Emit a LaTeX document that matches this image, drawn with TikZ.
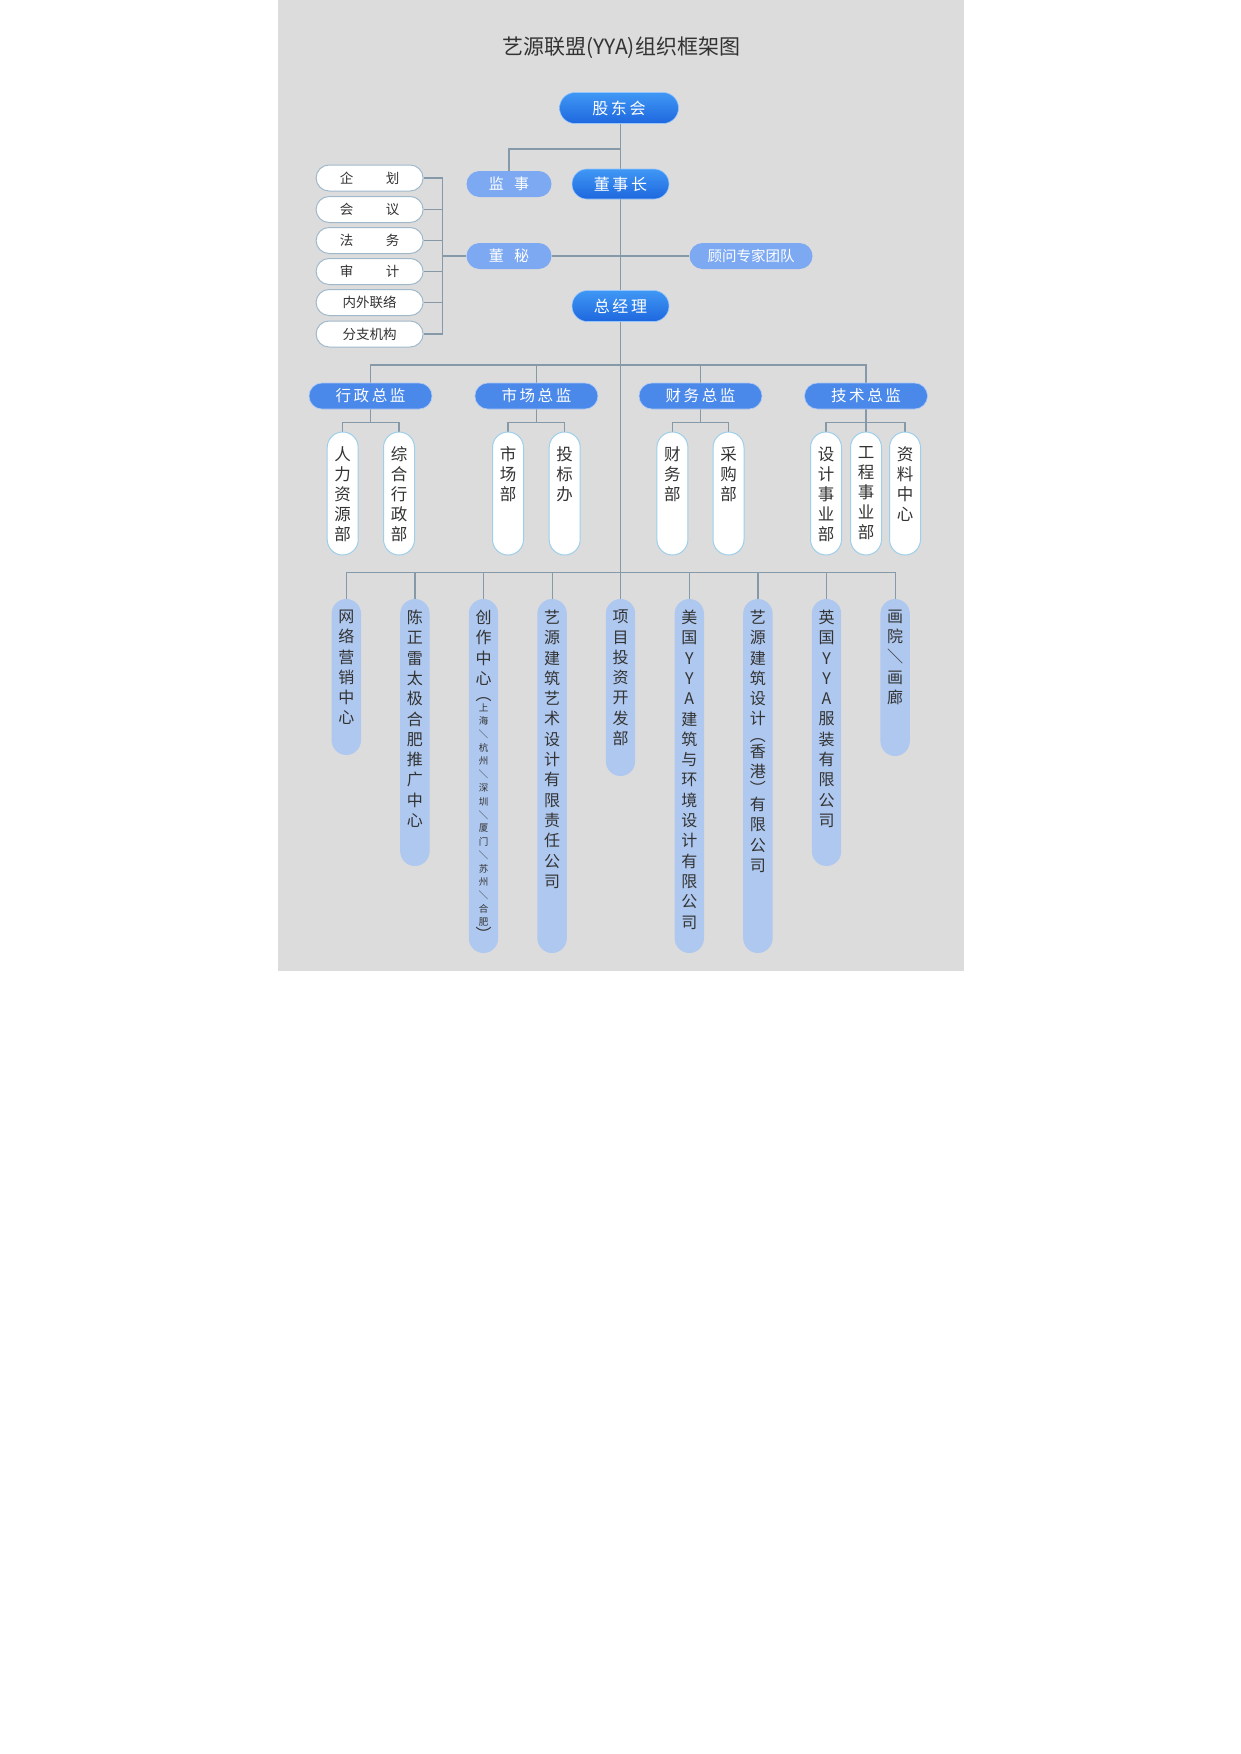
\documentclass[tikz,border=0pt]{standalone}
\usepackage{fontspec}
\setmainfont{Noto Sans CJK SC}
\usetikzlibrary{positioning,shapes.misc,backgrounds}

\definecolor{bggrey}{HTML}{DCDCDC}
\definecolor{linkc}{HTML}{8599A8}
\definecolor{deepblue}{HTML}{1E67DE}
\definecolor{skyblue}{HTML}{4098F5}
\definecolor{softblue}{HTML}{7DA9F2}
\definecolor{midblue}{HTML}{4A88EA}
\definecolor{pillline}{HTML}{9DCFEA}
\definecolor{boxline}{HTML}{9FB9CB}
\definecolor{paleblue}{HTML}{AFC8EF}
\definecolor{inkc}{HTML}{333333}

\tikzset{
  link/.style={draw=linkc, line width=1.2pt},
  headbox/.style={rounded rectangle, minimum width=97pt, minimum height=30pt, inner sep=0pt,
    top color=skyblue, bottom color=deepblue, draw=skyblue!55!white, line width=0.6pt,
    text=white, font=\fontsize{16}{16}\selectfont},
  sidebox/.style={rounded rectangle, minimum width=85pt, minimum height=26pt, inner sep=0pt,
    fill=softblue, text=white, font=\fontsize{15}{15}\selectfont},
  deptbox/.style={rounded rectangle, minimum width=123pt, minimum height=26pt, inner sep=0pt,
    fill=midblue, draw=midblue!45!white, line width=0.6pt, text=white, font=\fontsize{15.5}{15.5}\selectfont},
  staffbox/.style={rounded rectangle, minimum width=107pt, minimum height=26pt, inner sep=0pt,
    fill=white, draw=boxline, line width=1pt, text=inkc, font=\fontsize{13.5}{13.5}\selectfont},
  whitepill/.style={rectangle, rounded corners=15.5pt, minimum width=31pt, minimum height=123pt,
    fill=white, draw=pillline, line width=1pt},
  bluepill/.style={rectangle, rounded corners=14.7pt, minimum width=29.4pt, fill=paleblue},
  vtext/.style={align=center, inner sep=0pt, text=inkc, font=\fontsize{16.5}{20}\selectfont},
  vtextb/.style={align=center, inner sep=0pt, text=inkc, font=\fontsize{16}{20.3}\selectfont},
  vtexts/.style={align=center, inner sep=0pt, text=inkc, font=\fontsize{9.5}{13.4}\selectfont}
}
\newcommand{\vslash}{\rotatebox[origin=c]{-90}{／}}

\begin{document}
\begin{tikzpicture}[x=1pt,y=-1pt]
  \useasboundingbox (0,0) rectangle (1240,1754);

  % title and top level
  \node[font=\fontsize{21}{21}\selectfont, text=inkc] (title) at (621,48) {艺源联盟(YYA)组织框架图};
  \node[headbox, minimum width=119pt, minimum height=31pt] (gdh) at (619,108) {股\,东\,会};
  \node[headbox] (dsz) at (620.5,184) {董\,事\,长};
  \node[sidebox] (js) at (509,184) {监\hspace{0.7em}事};
  \node[sidebox] (dm) at (509,256) {董\hspace{0.7em}秘};
  \node[sidebox, minimum width=123pt, font=\fontsize{14.5}{14.5}\selectfont] (gw) at (751,256) {顾问专家团队};
  \node[headbox, minimum height=31pt] (zjl) at (620.5,306) {总\,经\,理};

  % staff offices
  \node[staffbox] (s1) at (369.6,178) {企\hspace{2.4em}划};
  \node[staffbox] (s2) at (369.6,209.5) {会\hspace{2.4em}议};
  \node[staffbox] (s3) at (369.6,240.5) {法\hspace{2.4em}务};
  \node[staffbox] (s4) at (369.6,271.5) {审\hspace{2.4em}计};
  \node[staffbox] (s5) at (369.6,302.5) {内外联络};
  \node[staffbox] (s6) at (369.6,334) {分支机构};

  % directors
  \node[deptbox] (zj1) at (370.5,396) {行\,政\,总\,监};
  \node[deptbox] (zj2) at (536.4,396) {市\,场\,总\,监};
  \node[deptbox] (zj3) at (700.5,396) {财\,务\,总\,监};
  \node[deptbox] (zj4) at (866,396) {技\,术\,总\,监};

  % departments
  \node[whitepill] (p1) at (342.7,493.5) {};
  \node[whitepill] (p2) at (399,493.5) {};
  \node[whitepill] (p3) at (508,493.5) {};
  \node[whitepill] (p4) at (564.7,493.5) {};
  \node[whitepill] (p5) at (672.4,493.5) {};
  \node[whitepill] (p6) at (728.5,493.5) {};
  \node[whitepill] (p7) at (826,493.5) {};
  \node[whitepill] (p8) at (866,493.5) {};
  \node[whitepill] (p9) at (905,493.5) {};
  \node[vtext, below=14.8pt of p1.north] {人\\力\\资\\源\\部};
  \node[vtext, below=14.8pt of p2.north] {综\\合\\行\\政\\部};
  \node[vtext, below=14.8pt of p3.north] {市\\场\\部};
  \node[vtext, below=14.8pt of p4.north] {投\\标\\办};
  \node[vtext, below=14.8pt of p5.north] {财\\务\\部};
  \node[vtext, below=14.8pt of p6.north] {采\\购\\部};
  \node[vtext, below=14.8pt of p7.north] {设\\计\\事\\业\\部};
  \node[vtext, below=14.8pt of p8.north] {工\\程\\事\\业\\部};
  \node[vtext, below=14.8pt of p9.north] {资\\料\\中\\心};

  % companies and centres
  \node[bluepill, minimum height=156pt] (q1) at (346.3,677) {};
  \node[bluepill, minimum height=267pt] (q2) at (414.9,732.5) {};
  \node[bluepill, minimum height=354pt] (q3) at (483.5,776) {};
  \node[bluepill, minimum height=354pt] (q4) at (552.1,776) {};
  \node[bluepill, minimum height=177pt] (q5) at (620.5,687.5) {};
  \node[bluepill, minimum height=354pt] (q6) at (689.3,776) {};
  \node[bluepill, minimum height=354pt] (q7) at (757.9,776) {};
  \node[bluepill, minimum height=267pt] (q8) at (826.5,732.5) {};
  \node[bluepill, minimum height=157pt] (q9) at (895.1,677.5) {};
  \node[vtextb, below=11pt of q1.north] {网\\络\\营\\销\\中\\心};
  \node[vtextb, below=11pt of q2.north] {陈\\正\\雷\\太\\极\\合\\肥\\推\\广\\中\\心};
  \node[vtextb, below=11pt of q3.north] {创\\作\\中\\心\\[-4pt]︵};
  \node[vtexts, below=104.5pt of q3.north] {上\\海\\\vslash\\杭\\州\\\vslash\\深\\圳\\\vslash\\厦\\门\\\vslash\\苏\\州\\\vslash\\合\\肥\\{\fontsize{16}{16}\selectfont ︶}};
  \node[vtextb, below=11pt of q4.north] {艺\\源\\建\\筑\\艺\\术\\设\\计\\有\\限\\责\\任\\公\\司};
  \node[vtextb, below=11pt of q5.north] {项\\目\\投\\资\\开\\发\\部};
  \node[vtextb, below=11pt of q6.north] {美\\国\\Y\\Y\\A\\建\\筑\\与\\环\\境\\设\\计\\有\\限\\公\\司};
  \node[vtextb, below=11pt of q7.north] {艺\\源\\建\\筑\\设\\计\\[-4pt]︵\\[-4pt]香\\港\\[-4pt]︶\\[-4pt]有\\限\\公\\司};
  \node[vtextb, below=11pt of q8.north] {英\\国\\Y\\Y\\A\\服\\装\\有\\限\\公\\司};
  \node[vtextb, below=11pt of q9.north] {画\\院\\\vslash\\画\\廊};

  \coordinate (jsfork) at (620.5,149);
  \coordinate (brk) at (442.6,256);
  \coordinate (topbus) at (620.5,365);
  \coordinate (subbus) at (620.5,422.5);
  \coordinate (lowbus) at (620.5,572.3);

  \begin{pgfonlayer}{background}
    \fill[white] (0,0) rectangle (1240,1754);
    \fill[bggrey] (277.5,0) rectangle (964,971);
    \draw[link] (dsz.north |- gdh.south) -- (dsz.north);
    \draw[link] (dsz.south) -- (zjl.north);
    \draw[link] (zjl.south) -- (lowbus);
    \draw[link] (jsfork) -| (js.north);
    \draw[link] (dm.east) -- (gw.west);
    \draw[link] (brk) -- (dm.west);
    \foreach \i in {1,...,6}
      \draw[link] (s\i.east) -- (s\i.east -| brk);
    \draw[link] (s1.east -| brk) -- (s6.east -| brk);
    \draw[link] (zj1.north) |- (topbus) -| (zj4.north);
    \draw[link] (zj2.north) -- (zj2.north |- topbus);
    \draw[link] (zj3.north) -- (zj3.north |- topbus);
    \draw[link] (zj1.south) -- (zj1.south |- subbus);
    \draw[link] (zj2.south) -- (zj2.south |- subbus);
    \draw[link] (zj3.south) -- (zj3.south |- subbus);
    \draw[link] (zj4.south) -- (p8.north);
    \draw[link] (p1.north) |- (p2.north |- subbus) -- (p2.north);
    \draw[link] (p3.north) |- (p4.north |- subbus) -- (p4.north);
    \draw[link] (p5.north) |- (p6.north |- subbus) -- (p6.north);
    \draw[link] (p7.north) |- (p9.north |- subbus) -- (p9.north);
    \draw[link] (q1.north) |- (lowbus) -| (q9.north);
    \foreach \i in {2,...,8}
      \draw[link] (q\i.north) -- (q\i.north |- lowbus);
  \end{pgfonlayer}
\end{tikzpicture}
\end{document}
